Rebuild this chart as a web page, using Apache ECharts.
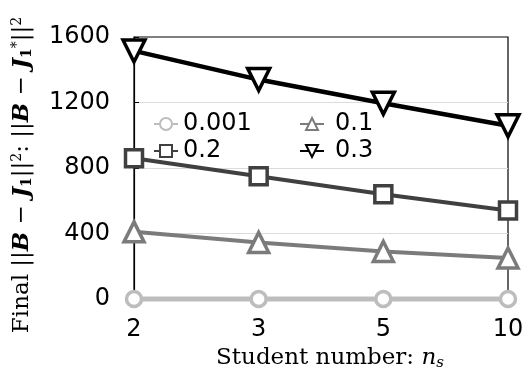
<!DOCTYPE html>
<html>
<head>
<meta charset="utf-8">
<script src="https://cdn.jsdelivr.net/npm/echarts@6/dist/echarts.min.js"></script>
<style>
  html, body { margin: 0; padding: 0; background: #fff; }
  #chart { width: 525px; height: 373px; }
</style>
</head>
<body>
<div id="chart"></div>
<script>
// student numbers (x axis)
const studentNumbers = ['2', '3', '5', '10']
const yTicks = [0, 400, 800, 1200, 1600]

// final error per noise level
const noise0001 = [0, 0, 0, 0]
const noise01 = [410, 345, 290, 250]
const noise02 = [860, 750, 640, 540]
const noise03 = [1515, 1340, 1195, 1058]

const seriesNames = ['0.001', '0.1', '0.2', '0.3']
const seriesColors = ['#bdbdbd', '#7b7b7b', '#404040', '#000000']
const seriesSymbols = ['circle', 'triangle', 'rect', 'triangle']
const seriesRotate = [0, 0, 0, 180]
const seriesSizes = [15, 20, 17, 22]
const seriesData = [noise0001, noise01, noise02, noise03]

const tickFont = 'DejaVu Sans'
const titleFont = 'DejaVu Serif'

const chart = echarts.init(document.getElementById('chart'), null, { renderer: 'canvas' })

const series = seriesNames.map((name, i) => ({
  name,
  type: 'line',
  data: seriesData[i],
  symbol: seriesSymbols[i],
  symbolRotate: seriesRotate[i],
  symbolSize: seriesSizes[i],
  showAllSymbol: true,
  clip: false,
  z: 5 + i,
  lineStyle: { color: seriesColors[i], width: i === 0 ? 5 : (i === 3 ? 4.5 : 4) },
  itemStyle: { color: '#fff', borderColor: seriesColors[i], borderWidth: 3.5 },
  emphasis: { disabled: true },
  animation: false
}))

const legendBase = {
  orient: 'vertical',
  itemWidth: 24,
  itemHeight: 15,
  itemGap: 3,
  selectedMode: false,
  textStyle: { fontFamily: tickFont, fontSize: 24, color: '#000', lineHeight: 22 }
}

chart.setOption({
  backgroundColor: '#fff',
  animation: false,
  grid: {
    left: 134,
    right: 17,
    top: 37,
    bottom: 74,
    outerBoundsMode: 'none',
    show: true,
    borderColor: '#000',
    borderWidth: 1.2
  },
  legend: [
    Object.assign({}, legendBase, { left: 148, top: 107, data: ['0.001', '0.2'] }),
    Object.assign({}, legendBase, {
      left: 294,
      top: 107,
      data: ['0.1', '0.3'],
      textStyle: Object.assign({}, legendBase.textStyle, { padding: [0, 0, 0, 6] })
    })
  ],
  xAxis: {
    type: 'category',
    boundaryGap: false,
    data: studentNumbers,
    axisLine: { show: true, lineStyle: { color: '#000', width: 1.2 } },
    axisTick: { show: false },
    axisLabel: { fontFamily: tickFont, fontSize: 24, color: '#000', margin: 19 },
    name: 'Student number: {i|n}{s|s}',
    nameLocation: 'middle',
    nameGap: 47,
    nameTextStyle: {
      fontFamily: titleFont,
      fontSize: 23,
      color: '#000',
      padding: [0, 0, 0, 18],
      rich: {
        i: { fontFamily: titleFont, fontStyle: 'italic', fontSize: 23, color: '#000' },
        s: { fontFamily: titleFont, fontStyle: 'italic', fontSize: 15, color: '#000', padding: [10, 0, 0, 0] }
      }
    }
  },
  yAxis: {
    type: 'value',
    min: yTicks[0],
    max: yTicks[yTicks.length - 1],
    interval: 400,
    axisLine: { show: true, lineStyle: { color: '#000', width: 1.2 } },
    axisTick: { show: true, inside: true, length: 5, lineStyle: { color: '#000' } },
    axisLabel: { fontFamily: tickFont, fontSize: 24, color: '#000', margin: 24, formatter: v => String(v) },
    splitLine: { show: true, showMaxLine: false, showMinLine: false, lineStyle: { color: '#dcdcdc', width: 1 } },
    name: '{n|Final ||}{b|B}{n| − }{b|J}{s|1}{n|||}{p|2}{n|: ||}{b|B}{n| − }{b|J}{s|1}{p|*}{n|||}{p|2}',
    nameLocation: 'middle',
    nameGap: 100,
    nameTextStyle: {
      fontFamily: titleFont,
      fontSize: 23,
      color: '#000',
      padding: [0, 14, 0, 0],
      rich: {
        n: { fontFamily: titleFont, fontSize: 23, color: '#000' },
        b: { fontFamily: titleFont, fontStyle: 'italic', fontWeight: 'bold', fontSize: 23, color: '#000' },
        s: { fontFamily: titleFont, fontWeight: 'bold', fontSize: 14, color: '#000', padding: [10, 0, 0, 0] },
        p: { fontFamily: titleFont, fontSize: 14, color: '#000', padding: [0, 0, 10, 0] }
      }
    }
  },
  series
})
</script>
</body>
</html>
